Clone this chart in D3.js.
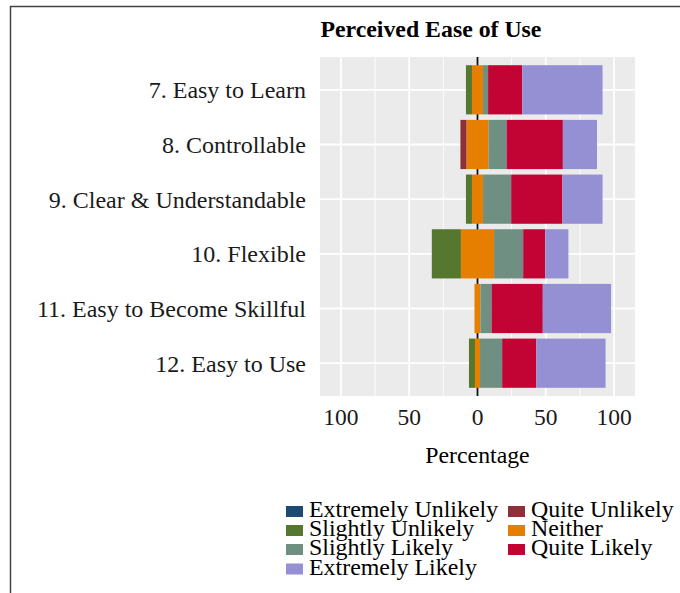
<!DOCTYPE html>
<html><head><meta charset="utf-8">
<script src="https://cdn.jsdelivr.net/npm/d3@7"></script>
<style>html,body{margin:0;padding:0;background:#fff;}svg{display:block;font-family:"Liberation Serif","DejaVu Serif",serif;}</style>
</head><body>
<svg id="c" width="680" height="593"></svg>
<script>
const categories = ["7. Easy to Learn", "8. Controllable", "9. Clear & Understandable", "10. Flexible", "11. Easy to Become Skillful", "12. Easy to Use"];
const levels = ["Extremely Unlikely","Quite Unlikely","Slightly Unlikely","Neither","Slightly Likely","Quite Likely","Extremely Likely"];
const colors = ["#1D4A73","#8E3039","#55772F","#E67E00","#6F8F82","#C20434","#9590D4"];
const extremelyUnlikely = [0, 0, 0, 0, 0, 0];
const quiteUnlikely     = [0, 4.4, 0, 0, 0, 0];
const slightlyUnlikely  = [4.4, 0, 4.4, 21.3, 0, 4.4];
const neither           = [8.1, 16.2, 8.1, 24.3, 4.4, 3.7];
const slightlyLikely    = [3.7, 13.2, 20.6, 21.3, 8.1, 16.2];
const quiteLikely       = [25.0, 41.2, 37.5, 16.2, 37.5, 25.0];
const extremelyLikely   = [58.8, 25.0, 29.4, 16.9, 50.0, 50.7];
const xTicks = [-100, -50, 0, 50, 100];
const xMinor = [-75, -25, 25, 75];

const series = [extremelyUnlikely, quiteUnlikely, slightlyUnlikely, neither, slightlyLikely, quiteLikely, extremelyLikely];

const svg = d3.select("#c");
const P = {l: 320, r: 635, t: 57, b: 396};

// outer frame
svg.append("rect").attr("x", 10.5).attr("y", 6.5).attr("width", 800).attr("height", 800)
  .attr("fill", "none").attr("stroke", "#444").attr("stroke-width", 1.5);

const x = d3.scaleLinear().domain([-115.3, 115.3]).range([P.l, P.r]);
const y = d3.scalePoint().domain(categories).range([P.t, P.b]).padding(0.6);
const bh = y.step() * 0.9;

svg.append("rect").attr("x", P.l).attr("y", P.t).attr("width", P.r - P.l).attr("height", P.b - P.t).attr("fill", "#EBEBEB");

const g = svg.append("g");
g.selectAll(".minor").data(xMinor).join("line")
  .attr("x1", d => x(d)).attr("x2", d => x(d)).attr("y1", P.t).attr("y2", P.b)
  .attr("stroke", "#fff").attr("stroke-width", 0.9);
g.selectAll(".major").data(xTicks).join("line")
  .attr("x1", d => x(d)).attr("x2", d => x(d)).attr("y1", P.t).attr("y2", P.b)
  .attr("stroke", "#fff").attr("stroke-width", 1.8);
g.selectAll(".hmaj").data(categories).join("line")
  .attr("x1", P.l).attr("x2", P.r).attr("y1", d => y(d)).attr("y2", d => y(d))
  .attr("stroke", "#fff").attr("stroke-width", 1.8);

// zero line
g.append("line").attr("x1", x(0)).attr("x2", x(0)).attr("y1", P.t).attr("y2", P.b)
  .attr("stroke", "#111").attr("stroke-width", 1.8);

// bars: diverging stack, neither split around zero
const segs = [];
categories.forEach((c, i) => {
  const half = neither[i] / 2;
  let left = -half;
  segs.push({c, lvl: 3, x0: -half, x1: half});
  [2, 1, 0].forEach(k => {
    const v = series[k][i];
    segs.push({c, lvl: k, x0: left - v, x1: left});
    left -= v;
  });
  let right = half;
  [4, 5, 6].forEach(k => {
    const v = series[k][i];
    segs.push({c, lvl: k, x0: right, x1: right + v});
    right += v;
  });
});
g.selectAll(".bar").data(segs.filter(s => s.x1 > s.x0)).join("rect")
  .attr("x", d => x(d.x0)).attr("width", d => x(d.x1) - x(d.x0))
  .attr("y", d => y(d.c) - bh / 2).attr("height", bh)
  .attr("fill", d => colors[d.lvl]);

// x tick labels
svg.selectAll(".xt").data(xTicks).join("text")
  .attr("x", d => x(d)).attr("y", 425).attr("text-anchor", "middle")
  .attr("font-size", 23.5).attr("fill", "#1a1a1a").text(d => Math.abs(d));

// y labels
svg.selectAll(".yl").data(categories).join("text")
  .attr("x", 306).attr("y", d => y(d) + 8.5).attr("text-anchor", "end")
  .attr("font-size", 24).attr("fill", "#1a1a1a").text(d => d);

// axis title
svg.append("text").attr("x", x(0)).attr("y", 462.5).attr("text-anchor", "middle")
  .attr("font-size", 23.8).attr("fill", "#000").text("Percentage");

// title
svg.append("text").attr("x", 320.5).attr("y", 36.7).attr("font-size", 23.8)
  .attr("font-weight", "bold").attr("fill", "#000").text("Perceived Ease of Use");

// legend (byrow, 2 columns)
const colX = [286, 508];
const rowY = [511.5, 530.5, 549.5, 569];
const lg = svg.append("g");
levels.forEach((lvl, idx) => {
  const col = idx % 2, row = Math.floor(idx / 2);
  lg.append("rect").attr("x", colX[col]).attr("y", rowY[row] - 5.5).attr("width", 17).attr("height", 11)
    .attr("fill", colors[idx]);
  lg.append("text").attr("x", colX[col] + 23).attr("y", rowY[row] + 5.5)
    .attr("font-size", 23.9).attr("fill", "#000").text(lvl);
});
</script>
</body></html>
